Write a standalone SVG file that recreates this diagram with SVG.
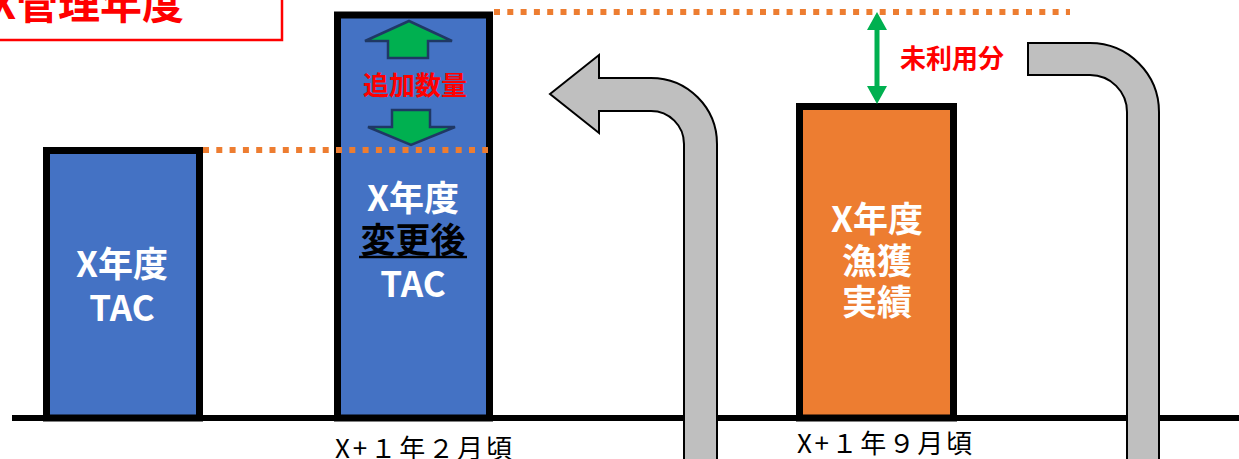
<svg xmlns="http://www.w3.org/2000/svg" width="1239" height="459" viewBox="0 0 1239 459">
<style>
.jp{font-family:"Noto Sans CJK JP","Noto Sans",sans-serif}
.bar{stroke:#000;stroke-width:7}
.bt{font-family:"Noto Sans CJK JP","Noto Sans",sans-serif;font-weight:bold;font-size:35px;fill:#fff;text-anchor:middle}
.red{font-family:"Noto Sans CJK JP","Noto Sans",sans-serif;font-weight:bold;fill:#FF0000;text-anchor:middle}
.dot{stroke:#ED7D31;stroke-width:6;stroke-dasharray:6 7.3;fill:none}
.gray{fill:#BFBFBF;stroke:#000;stroke-width:2;stroke-linejoin:miter}
.grn{fill:#00B050;stroke:#1F3864;stroke-width:2.5;stroke-linejoin:miter}
.lbl{font-family:"Noto Sans CJK JP","Noto Sans",sans-serif;font-size:26px;fill:#000}
</style>
<rect width="1239" height="459" fill="#fff"/>
<g id="title">
<rect x="-5" y="-5" width="287" height="45" fill="#fff" stroke="#FF0000" stroke-width="2.5"/>
<text class="jp" x="184" y="19" font-size="42" font-weight="bold" fill="#FF0000" text-anchor="end">X管理年度</text>
</g>
<g id="baseline">
<line x1="12" y1="418" x2="1239" y2="418" stroke="#000" stroke-width="6"/>
</g>
<g id="bar-tac">
<rect class="bar" x="46.5" y="150.5" width="153" height="267.5" fill="#4472C4"/>
<text class="bt" x="122" y="277">X年度</text>
<text class="bt" x="122" y="321">TAC</text>
</g>
<g id="bar-tac-changed">
<rect class="bar" x="337.5" y="15" width="152" height="403" fill="#4472C4"/>
<polygon class="grn" points="409,21 452,41 428,41 428,58 388,58 388,41 365,41"/>
<text class="red" x="415" y="95" font-size="26">追加数量</text>
<polygon class="grn" points="392,110 430,110 430,127 455,127 411,145 368,127 392,127"/>
<text class="bt" x="413" y="211">X年度</text>
<text class="bt" x="413" y="253" style="fill:#000">変更後</text>
<line x1="359" y1="257" x2="467" y2="257" stroke="#000" stroke-width="2.5"/>
<text class="bt" x="413" y="297">TAC</text>
</g>
<g id="bar-catch">
<rect class="bar" x="799.5" y="106.5" width="154" height="311.5" fill="#ED7D31"/>
<text class="bt" x="877" y="232">X年度</text>
<text class="bt" x="877" y="274">漁獲</text>
<text class="bt" x="877" y="315">実績</text>
</g>
<g id="connectors">
<line class="dot" x1="203" y1="150" x2="488" y2="150"/>
<line class="dot" x1="494" y1="12" x2="1070" y2="12"/>
<polygon points="877,12 887,30 879.5,30 879.5,86 887,86 877,104 867,86 874.5,86 874.5,30 867,30" fill="#00B050"/>
<path class="gray" d="M550,94 L599,55 L599,78 L651,78 A66,66 0 0 1 717,144 L717,470 L684,470 L684,144 A33,33 0 0 0 651,111 L599,111 L599,133 Z"/>
<path class="gray" d="M1028,43 L1090,43 A69,69 0 0 1 1159,112 L1159,470 L1127,470 L1127,112 A37,37 0 0 0 1090,75 L1028,75 Z"/>
</g>
<g id="labels">
<text class="red" x="952" y="68" font-size="26">未利用分</text>
<text class="lbl" x="335" y="458" textLength="177" lengthAdjust="spacing">X+１年２月頃</text>
<text class="lbl" x="797" y="453" textLength="175" lengthAdjust="spacing">X+１年９月頃</text>
</g>
</svg>
